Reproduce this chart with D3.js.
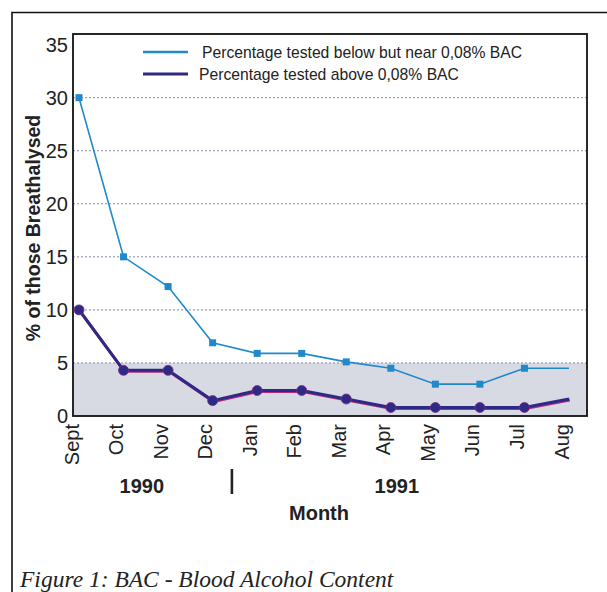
<!DOCTYPE html>
<html>
<head>
<meta charset="utf-8">
<script src="https://cdn.jsdelivr.net/npm/d3@7"></script>
<style>
  body { margin: 0; background: #fff; }
  svg { display: block; font-family: Arial, "Liberation Sans", sans-serif; }
</style>
</head>
<body>
<div id="chart"></div>
<script>
const months = ["Sept", "Oct", "Nov", "Dec", "Jan", "Feb", "Mar", "Apr", "May", "Jun", "Jul", "Aug"];
const belowNear = [30, 15, 12.2, 6.9, 5.9, 5.9, 5.1, 4.5, 3.0, 3.0, 4.5, 4.5];
const above = [10, 4.3, 4.3, 1.45, 2.4, 2.4, 1.6, 0.8, 0.8, 0.8, 0.8, 1.6];
const yTicks = [0, 5, 10, 15, 20, 25, 30, 35];
const gridTicks = [5, 10, 15, 20, 25, 30];
const years = ["1990", "1991"];
const legendLabels = ["Percentage tested below but near 0,08% BAC", "Percentage tested above 0,08% BAC"];

const width = 607, height = 592;
const plot = { left: 73, right: 587, top: 34, bottom: 416 };

const svg = d3.select("#chart").append("svg")
  .attr("width", width)
  .attr("height", height);

// outer frame (left + top only visible)
svg.append("path")
  .attr("d", `M12,${height} V12.5 H${width}`)
  .attr("fill", "none")
  .attr("stroke", "#111")
  .attr("stroke-width", 1.6);

const x = d3.scalePoint()
  .domain(months)
  .range([79, 569]);

const y = d3.scaleLinear()
  .domain([0, 36])
  .range([plot.bottom, plot.top]);

// shaded band below 5%
svg.append("rect")
  .attr("x", plot.left)
  .attr("y", y(5))
  .attr("width", plot.right - plot.left)
  .attr("height", y(0) - y(5))
  .attr("fill", "#d7dae3");

// dotted grid
svg.append("g")
  .selectAll("line")
  .data(gridTicks)
  .join("line")
  .attr("x1", plot.left)
  .attr("x2", plot.right)
  .attr("y1", d => y(d))
  .attr("y2", d => y(d))
  .attr("stroke", "#8589ad")
  .attr("stroke-width", 1)
  .attr("stroke-dasharray", "2,2");

// plot frame
svg.append("rect")
  .attr("x", plot.left)
  .attr("y", plot.top)
  .attr("width", plot.right - plot.left)
  .attr("height", plot.bottom - plot.top)
  .attr("fill", "none")
  .attr("stroke", "#111")
  .attr("stroke-width", 1.8);

// y axis
const yAxis = svg.append("g")
  .attr("transform", `translate(${plot.left - 4},0)`)
  .call(d3.axisLeft(y).tickValues(yTicks).tickSize(0).tickPadding(1));
yAxis.select(".domain").remove();
yAxis.selectAll("text")
  .attr("font-size", 20)
  .attr("font-family", "Arial, 'Liberation Sans', sans-serif")
  .attr("fill", "#222");

// x axis, rotated labels
const xAxis = svg.append("g")
  .attr("transform", `translate(0,${plot.bottom})`)
  .call(d3.axisBottom(x).tickSize(0));
xAxis.select(".domain").remove();
xAxis.selectAll("text")
  .attr("font-size", 20)
  .attr("font-family", "Arial, 'Liberation Sans', sans-serif")
  .attr("fill", "#222")
  .attr("text-anchor", "end")
  .attr("transform", "translate(-8,8) rotate(-90)")
  .attr("x", 0)
  .attr("y", 0)
  .attr("dy", "0.35em");

// series lines
const line = d3.line()
  .x((d, i) => x(months[i]))
  .y(d => y(d));

svg.append("path")
  .datum(belowNear)
  .attr("fill", "none")
  .attr("stroke", "#2089cb")
  .attr("stroke-width", 1.6)
  .attr("d", line);

svg.append("g")
  .selectAll("rect")
  .data(belowNear.slice(0, -1))
  .join("rect")
  .attr("x", (d, i) => x(months[i]) - 3.5)
  .attr("y", d => y(d) - 3.5)
  .attr("width", 7)
  .attr("height", 7)
  .attr("fill", "#2089cb");

// magenta fringe under the dark line
svg.append("path")
  .datum(above)
  .attr("fill", "none")
  .attr("stroke", "#b8287c")
  .attr("stroke-width", 3)
  .attr("transform", "translate(0.8,1)")
  .attr("d", line);

svg.append("path")
  .datum(above)
  .attr("fill", "none")
  .attr("stroke", "#2c2a84")
  .attr("stroke-width", 3)
  .attr("d", line);

svg.append("g")
  .selectAll("circle")
  .data(above.slice(0, -1))
  .join("circle")
  .attr("cx", (d, i) => x(months[i]))
  .attr("cy", d => y(d))
  .attr("r", 5)
  .attr("fill", "#2c2a84")
  .attr("stroke", "#8a2a86")
  .attr("stroke-width", 0.8);

// legend
const legendColors = ["#2089cb", "#2c2a84"];
const legend = svg.append("g")
  .selectAll("g")
  .data(legendLabels)
  .join("g")
  .attr("transform", (d, i) => `translate(143,${52 + i * 22})`);
legend.append("line")
  .attr("x1", 0)
  .attr("x2", 45)
  .attr("stroke", (d, i) => legendColors[i])
  .attr("stroke-width", (d, i) => i === 0 ? 2.6 : 3.2);
legend.append("text")
  .attr("x", (d, i) => i === 0 ? 59 : 56)
  .attr("dy", "0.35em")
  .attr("font-size", 15.7)
  .attr("fill", "#222")
  .text(d => d);

// y title
svg.append("text")
  .attr("transform", "translate(33,228) rotate(-90)")
  .attr("text-anchor", "middle")
  .attr("dy", "0.35em")
  .attr("font-size", 19.5)
  .attr("font-weight", "bold")
  .attr("fill", "#222")
  .text("% of those Breathalysed");

// year labels and divider
const yearX = [(x("Sept") + x("Dec")) / 2 - 4, (x("Jan") + x("Jul")) / 2 + 6];
svg.append("g")
  .selectAll("text")
  .data(years)
  .join("text")
  .attr("x", (d, i) => yearX[i])
  .attr("y", 493)
  .attr("text-anchor", "middle")
  .attr("font-size", 20)
  .attr("font-weight", "bold")
  .attr("fill", "#222")
  .text(d => d);

const divX = (x("Dec") + x("Jan")) / 2 - 3;
svg.append("line")
  .attr("x1", divX)
  .attr("x2", divX)
  .attr("y1", 469)
  .attr("y2", 494)
  .attr("stroke", "#222")
  .attr("stroke-width", 2.6);

svg.append("text")
  .attr("x", 319)
  .attr("y", 520)
  .attr("text-anchor", "middle")
  .attr("font-size", 20)
  .attr("font-weight", "bold")
  .attr("fill", "#222")
  .text("Month");

// caption
svg.append("text")
  .attr("x", 20)
  .attr("y", 587)
  .attr("font-family", "'Liberation Serif', 'Times New Roman', serif")
  .attr("font-style", "italic")
  .attr("font-size", 23.5)
  .attr("fill", "#222")
  .text("Figure 1: BAC - Blood Alcohol Content");
</script>
</body>
</html>
